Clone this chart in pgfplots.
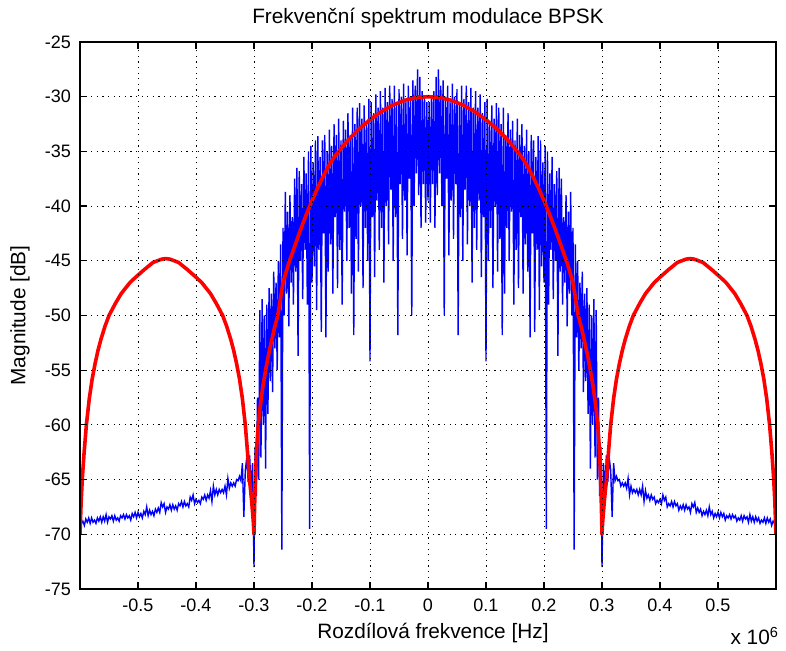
\documentclass[border=0pt]{standalone}
\usepackage{pgfplots}
\pgfplotsset{compat=1.18}
\usepackage{fontspec}
\setmainfont{Liberation Sans}
\begin{document}
\begin{tikzpicture}[font=\fontsize{9}{11}\selectfont]
\begin{axis}[
  scale only axis, width=348pt, height=273.5pt,
  at={(0pt,0pt)}, anchor=south west,
  xmin=-0.6, xmax=0.6, ymin=-75, ymax=-25,
  xtick={-0.5,-0.4,-0.3,-0.2,-0.1,0,0.1,0.2,0.3,0.4,0.5},
  xticklabels={-0.5,-0.4,-0.3,-0.2,-0.1,0,0.1,0.2,0.3,0.4,0.5},
  ytick={-75,-70,-65,-60,-55,-50,-45,-40,-35,-30,-25},
  yticklabels={-75,-70,-65,-60,-55,-50,-45,-40,-35,-30,-25},
  /pgf/number format/assume math mode=true,
  grid=major,
  major grid style={black, line width=0.45pt, dash pattern=on 0.6pt off 2.2pt},
  tick align=inside, major tick length=3.5pt,
  every tick/.style={black, line width=0.6pt},
  axis line style={black, line width=0.6pt},
  axis on top,
  xticklabel style={yshift=-1.5pt},
  yticklabel style={xshift=-1pt},
  clip=true,
]
% measured spectrum
\addplot[blue, line width=0.7pt] coordinates {
(-0.6000,-68.6) (-0.5975,-69.0) (-0.5950,-68.8) (-0.5925,-69.2) (-0.5900,-68.6) (-0.5875,-68.9) (-0.5850,-68.5) (-0.5825,-69.0) (-0.5800,-68.5) (-0.5775,-68.9)
(-0.5750,-68.7) (-0.5725,-69.0) (-0.5700,-68.5) (-0.5675,-68.8) (-0.5650,-68.4) (-0.5625,-68.9) (-0.5600,-68.4) (-0.5575,-68.8) (-0.5550,-68.2) (-0.5525,-68.9)
(-0.5500,-68.4) (-0.5475,-68.6) (-0.5450,-68.3) (-0.5425,-68.8) (-0.5400,-68.3) (-0.5375,-68.7) (-0.5350,-68.5) (-0.5325,-68.8) (-0.5300,-68.3) (-0.5275,-68.5)
(-0.5250,-68.2) (-0.5225,-68.6) (-0.5200,-68.2) (-0.5175,-68.5) (-0.5150,-68.3) (-0.5125,-68.7) (-0.5100,-68.1) (-0.5075,-68.4) (-0.5050,-68.0) (-0.5025,-68.5)
(-0.5000,-68.0) (-0.4975,-68.4) (-0.4950,-68.1) (-0.4925,-68.5) (-0.4900,-67.9) (-0.4875,-68.2) (-0.4850,-67.5) (-0.4825,-68.3) (-0.4800,-67.8) (-0.4775,-68.2)
(-0.4750,-67.9) (-0.4725,-68.3) (-0.4700,-67.7) (-0.4675,-68.0) (-0.4650,-67.6) (-0.4625,-68.0) (-0.4600,-67.1) (-0.4575,-67.5) (-0.4550,-67.2) (-0.4525,-68.0)
(-0.4500,-67.5) (-0.4475,-67.7) (-0.4450,-67.3) (-0.4425,-67.8) (-0.4400,-67.3) (-0.4375,-67.7) (-0.4350,-67.4) (-0.4325,-67.8) (-0.4300,-67.2) (-0.4275,-67.4)
(-0.4250,-67.0) (-0.4225,-67.5) (-0.4200,-67.0) (-0.4175,-67.4) (-0.4150,-67.2) (-0.4125,-67.5) (-0.4100,-66.6) (-0.4075,-66.9) (-0.4050,-66.4) (-0.4025,-67.2)
(-0.4000,-66.8) (-0.3975,-67.1) (-0.3950,-66.9) (-0.3925,-67.2) (-0.3900,-66.6) (-0.3875,-66.8) (-0.3850,-66.4) (-0.3825,-66.9) (-0.3800,-66.4) (-0.3775,-66.7)
(-0.3750,-66.0) (-0.3725,-67.0) (-0.3700,-65.6) (-0.3675,-66.4) (-0.3650,-65.9) (-0.3625,-66.4) (-0.3600,-65.9) (-0.3575,-66.2) (-0.3550,-65.9) (-0.3525,-66.2)
(-0.3500,-65.6) (-0.3475,-66.4) (-0.3450,-64.9) (-0.3425,-65.8) (-0.3400,-65.3) (-0.3375,-65.6) (-0.3350,-65.3) (-0.3325,-65.6) (-0.3300,-65.0) (-0.3275,-65.1)
(-0.3250,-64.7) (-0.3225,-65.1) (-0.3200,-63.5) (-0.3175,-68.4) (-0.3150,-64.2) (-0.3125,-63.0) (-0.3100,-65.2) (-0.3075,-62.8) (-0.3050,-66.0) (-0.3025,-63.5)
(-0.300,-73.0) (-0.298,-62.0) (-0.296,-66.5) (-0.294,-57.5) (-0.292,-65.0) (-0.290,-49.5) (-0.288,-63.0) (-0.286,-48.5) (-0.284,-60.0) (-0.282,-50.0)
(-0.280,-64.0) (-0.278,-49.0) (-0.276,-59.0) (-0.274,-47.5) (-0.272,-56.0) (-0.270,-48.0) (-0.268,-57.0) (-0.266,-46.0) (-0.264,-53.0) (-0.262,-47.0)
(-0.260,-55.0) (-0.258,-45.0) (-0.256,-52.0) (-0.254,-43.5) (-0.252,-71.4) (-0.250,-42.0) (-0.248,-50.0) (-0.246,-38.7) (-0.244,-48.0) (-0.242,-40.5)
(-0.240,-51.0) (-0.238,-39.0) (-0.236,-47.0) (-0.234,-41.0) (-0.232,-49.0) (-0.230,-37.5) (-0.228,-46.0) (-0.226,-36.5) (-0.224,-53.7) (-0.222,-36.8)
(-0.220,-45.0) (-0.218,-38.0) (-0.216,-48.5) (-0.214,-35.5) (-0.212,-44.0) (-0.210,-37.0) (-0.208,-49.0) (-0.206,-35.0) (-0.204,-69.5) (-0.202,-34.5)
(-0.200,-47.0) (-0.198,-36.0) (-0.196,-45.5) (-0.194,-34.0) (-0.192,-49.5) (-0.190,-33.6) (-0.188,-44.0) (-0.186,-35.5) (-0.184,-51.5) (-0.182,-34.0)
(-0.180,-42.5) (-0.178,-33.5) (-0.176,-52.0) (-0.174,-35.0) (-0.172,-46.0) (-0.170,-33.0) (-0.168,-43.5) (-0.166,-34.5) (-0.164,-48.0) (-0.162,-32.5)
(-0.160,-41.0) (-0.158,-33.5) (-0.156,-47.5) (-0.154,-32.0) (-0.152,-44.0) (-0.150,-34.0) (-0.148,-49.0) (-0.146,-32.2) (-0.144,-40.5) (-0.142,-33.0)
(-0.140,-45.0) (-0.138,-31.5) (-0.136,-42.0) (-0.134,-33.5) (-0.132,-48.0) (-0.130,-31.0) (-0.128,-51.8) (-0.126,-32.5) (-0.124,-43.0) (-0.122,-31.0)
(-0.120,-46.0) (-0.118,-30.6) (-0.116,-40.0) (-0.114,-32.0) (-0.112,-47.5) (-0.110,-30.8) (-0.108,-42.0) (-0.106,-32.5) (-0.104,-45.0) (-0.102,-30.2)
(-0.100,-54.2) (-0.098,-30.5) (-0.096,-41.0) (-0.094,-31.5) (-0.092,-46.5) (-0.090,-29.8) (-0.088,-39.5) (-0.086,-31.0) (-0.084,-44.0) (-0.082,-29.5)
(-0.080,-42.0) (-0.078,-31.0) (-0.076,-47.0) (-0.074,-29.2) (-0.072,-40.0) (-0.070,-30.5) (-0.068,-43.5) (-0.066,-29.0) (-0.064,-38.5) (-0.062,-30.2)
(-0.060,-45.0) (-0.058,-29.0) (-0.056,-41.0) (-0.054,-30.5) (-0.052,-51.8) (-0.050,-29.3) (-0.048,-38.0) (-0.046,-30.0) (-0.044,-43.0) (-0.042,-28.8)
(-0.040,-39.5) (-0.038,-30.5) (-0.036,-44.5) (-0.034,-29.0) (-0.032,-37.5) (-0.030,-30.0) (-0.028,-50.0) (-0.026,-28.5) (-0.024,-40.0) (-0.022,-29.0)
(-0.020,-37.0) (-0.018,-27.5) (-0.016,-39.0) (-0.014,-28.2) (-0.012,-42.0) (-0.010,-29.5) (-0.008,-38.0) (-0.006,-30.0) (-0.004,-41.5) (-0.002,-30.5)
(0.000,-39.5)
(0.002,-30.5) (0.004,-41.5) (0.006,-30.0) (0.008,-38.0) (0.010,-29.5) (0.012,-42.0) (0.014,-28.2) (0.016,-39.0) (0.018,-27.5) (0.020,-37.0)
(0.022,-29.0) (0.024,-40.0) (0.026,-28.5) (0.028,-50.0) (0.030,-30.0) (0.032,-37.5) (0.034,-29.0) (0.036,-44.5) (0.038,-30.5) (0.040,-39.5)
(0.042,-28.8) (0.044,-43.0) (0.046,-30.0) (0.048,-38.0) (0.050,-29.3) (0.052,-51.8) (0.054,-30.5) (0.056,-41.0) (0.058,-29.0) (0.060,-45.0)
(0.062,-30.2) (0.064,-38.5) (0.066,-29.0) (0.068,-43.5) (0.070,-30.5) (0.072,-40.0) (0.074,-29.2) (0.076,-47.0) (0.078,-31.0) (0.080,-42.0)
(0.082,-29.5) (0.084,-44.0) (0.086,-31.0) (0.088,-39.5) (0.090,-29.8) (0.092,-46.5) (0.094,-31.5) (0.096,-41.0) (0.098,-30.5) (0.100,-54.2)
(0.102,-30.2) (0.104,-45.0) (0.106,-32.5) (0.108,-42.0) (0.110,-30.8) (0.112,-47.5) (0.114,-32.0) (0.116,-40.0) (0.118,-30.6) (0.120,-46.0)
(0.122,-31.0) (0.124,-43.0) (0.126,-32.5) (0.128,-51.8) (0.130,-31.0) (0.132,-48.0) (0.134,-33.5) (0.136,-42.0) (0.138,-31.5) (0.140,-45.0)
(0.142,-33.0) (0.144,-40.5) (0.146,-32.2) (0.148,-49.0) (0.150,-34.0) (0.152,-44.0) (0.154,-32.0) (0.156,-47.5) (0.158,-33.5) (0.160,-41.0)
(0.162,-32.5) (0.164,-48.0) (0.166,-34.5) (0.168,-43.5) (0.170,-33.0) (0.172,-46.0) (0.174,-35.0) (0.176,-52.0) (0.178,-33.5) (0.180,-42.5)
(0.182,-34.0) (0.184,-51.5) (0.186,-35.5) (0.188,-44.0) (0.190,-33.6) (0.192,-49.5) (0.194,-34.0) (0.196,-45.5) (0.198,-36.0) (0.200,-47.0)
(0.202,-34.5) (0.204,-69.5) (0.206,-35.0) (0.208,-49.0) (0.210,-37.0) (0.212,-44.0) (0.214,-35.5) (0.216,-48.5) (0.218,-38.0) (0.220,-45.0)
(0.222,-36.8) (0.224,-53.7) (0.226,-36.5) (0.228,-46.0) (0.230,-37.5) (0.232,-49.0) (0.234,-41.0) (0.236,-47.0) (0.238,-39.0) (0.240,-51.0)
(0.242,-40.5) (0.244,-48.0) (0.246,-38.7) (0.248,-50.0) (0.250,-42.0) (0.252,-71.4) (0.254,-43.5) (0.256,-52.0) (0.258,-45.0) (0.260,-55.0)
(0.262,-47.0) (0.264,-53.0) (0.266,-46.0) (0.268,-57.0) (0.270,-48.0) (0.272,-56.0) (0.274,-47.5) (0.276,-59.0) (0.278,-49.0) (0.280,-64.0)
(0.282,-50.0) (0.284,-60.0) (0.286,-48.5) (0.288,-63.0) (0.290,-49.5) (0.292,-65.0) (0.294,-57.5) (0.296,-66.5) (0.298,-62.0) (0.300,-73.0)
(0.3025,-63.5) (0.3050,-66.0) (0.3075,-62.8) (0.3100,-65.2) (0.3125,-63.0) (0.3150,-64.2) (0.3175,-68.4) (0.3200,-63.5) (0.3225,-65.1) (0.3250,-64.7)
(0.3275,-65.1) (0.3300,-65.0) (0.3325,-65.6) (0.3350,-65.3) (0.3375,-65.6) (0.3400,-65.3) (0.3425,-65.8) (0.3450,-64.9) (0.3475,-66.4) (0.3500,-65.6)
(0.3525,-66.2) (0.3550,-65.9) (0.3575,-66.2) (0.3600,-65.9) (0.3625,-66.4) (0.3650,-65.9) (0.3675,-66.4) (0.3700,-65.6) (0.3725,-67.0) (0.3750,-66.0)
(0.3775,-66.7) (0.3800,-66.4) (0.3825,-66.9) (0.3850,-66.4) (0.3875,-66.8) (0.3900,-66.6) (0.3925,-67.2) (0.3950,-66.9) (0.3975,-67.1) (0.4000,-66.8)
(0.4025,-67.2) (0.4050,-66.4) (0.4075,-66.9) (0.4100,-66.6) (0.4125,-67.5) (0.4150,-67.2) (0.4175,-67.4) (0.4200,-67.0) (0.4225,-67.5) (0.4250,-67.0)
(0.4275,-67.4) (0.4300,-67.2) (0.4325,-67.8) (0.4350,-67.4) (0.4375,-67.7) (0.4400,-67.3) (0.4425,-67.8) (0.4450,-67.3) (0.4475,-67.7) (0.4500,-67.5)
(0.4525,-68.0) (0.4550,-67.2) (0.4575,-67.5) (0.4600,-67.1) (0.4625,-68.0) (0.4650,-67.6) (0.4675,-68.0) (0.4700,-67.7) (0.4725,-68.3) (0.4750,-67.9)
(0.4775,-68.2) (0.4800,-67.8) (0.4825,-68.3) (0.4850,-67.5) (0.4875,-68.2) (0.4900,-67.9) (0.4925,-68.5) (0.4950,-68.1) (0.4975,-68.4) (0.5000,-68.0)
(0.5025,-68.5) (0.5050,-68.0) (0.5075,-68.4) (0.5100,-68.1) (0.5125,-68.7) (0.5150,-68.3) (0.5175,-68.5) (0.5200,-68.2) (0.5225,-68.6) (0.5250,-68.2)
(0.5275,-68.5) (0.5300,-68.3) (0.5325,-68.8) (0.5350,-68.5) (0.5375,-68.7) (0.5400,-68.3) (0.5425,-68.8) (0.5450,-68.3) (0.5475,-68.6) (0.5500,-68.4)
(0.5525,-68.9) (0.5550,-68.2) (0.5575,-68.8) (0.5600,-68.4) (0.5625,-68.9) (0.5650,-68.4) (0.5675,-68.8) (0.5700,-68.5) (0.5725,-69.0) (0.5750,-68.7)
(0.5775,-68.9) (0.5800,-68.5) (0.5825,-69.0) (0.5850,-68.5) (0.5875,-68.9) (0.5900,-68.6) (0.5925,-69.2) (0.5950,-68.8) (0.5975,-69.0) (0.6000,-68.6)
};
% theoretical envelope
\addplot[red, line width=1.8pt, line join=round] coordinates {
(-0.600,-70) (-0.599,-68.5) (-0.598,-67) (-0.596,-64.9) (-0.593,-62.6) (-0.589,-60) (-0.584,-57.6) (-0.579,-55.8) (-0.574,-54.4)
(-0.569,-53.2) (-0.564,-52.2) (-0.557,-51.0) (-0.550,-50.0) (-0.539,-48.9) (-0.529,-48.0) (-0.514,-47.0) (-0.504,-46.5) (-0.489,-45.8)
(-0.474,-45.15) (-0.459,-44.85) (-0.452,-44.8) (-0.445,-44.85) (-0.430,-45.15) (-0.415,-45.8) (-0.400,-46.5) (-0.390,-47.0) (-0.375,-48.0)
(-0.365,-48.9) (-0.354,-50.0) (-0.347,-51.0) (-0.340,-52.2) (-0.335,-53.2) (-0.330,-54.4) (-0.325,-55.8) (-0.320,-57.6) (-0.315,-60)
(-0.311,-62.6) (-0.308,-64.9) (-0.306,-65.9) (-0.304,-67) (-0.302,-68.3) (-0.301,-69) (-0.300,-70)
(-0.299,-67.5) (-0.298,-65.6) (-0.297,-64.0) (-0.295,-61.8) (-0.293,-60.2) (-0.290,-58.6) (-0.285,-56.6) (-0.280,-55.0) (-0.275,-53.6)
(-0.270,-52.4) (-0.265,-51.2) (-0.259,-50.0) (-0.250,-47.0) (-0.240,-45.2) (-0.230,-43.7) (-0.220,-42.2) (-0.210,-40.8) (-0.200,-39.5)
(-0.190,-38.3) (-0.180,-37.2) (-0.170,-36.2) (-0.160,-35.4) (-0.140,-34.1) (-0.120,-33.0) (-0.100,-32.1) (-0.080,-31.35) (-0.060,-30.75)
(-0.040,-30.33) (-0.020,-30.08) (0.000,-30.0)
(0.020,-30.08) (0.040,-30.33) (0.060,-30.75) (0.080,-31.35) (0.100,-32.1) (0.120,-33.0) (0.140,-34.1) (0.160,-35.4) (0.170,-36.2)
(0.180,-37.2) (0.190,-38.3) (0.200,-39.5) (0.210,-40.8) (0.220,-42.2) (0.230,-43.7) (0.240,-45.2) (0.250,-47.0) (0.259,-50.0)
(0.265,-51.2) (0.270,-52.4) (0.275,-53.6) (0.280,-55.0) (0.285,-56.6) (0.290,-58.6) (0.293,-60.2) (0.295,-61.8) (0.297,-64.0)
(0.298,-65.6) (0.299,-67.5) (0.300,-70)
(0.301,-69) (0.302,-68.3) (0.304,-67) (0.306,-65.9) (0.308,-64.9) (0.311,-62.6) (0.315,-60) (0.320,-57.6) (0.325,-55.8) (0.330,-54.4)
(0.335,-53.2) (0.340,-52.2) (0.347,-51.0) (0.354,-50.0) (0.365,-48.9) (0.375,-48.0) (0.390,-47.0) (0.400,-46.5) (0.415,-45.8)
(0.430,-45.15) (0.445,-44.85) (0.452,-44.8) (0.459,-44.85) (0.474,-45.15) (0.489,-45.8) (0.504,-46.5) (0.514,-47.0) (0.529,-48.0)
(0.539,-48.9) (0.550,-50.0) (0.557,-51.0) (0.564,-52.2) (0.569,-53.2) (0.574,-54.4) (0.579,-55.8) (0.584,-57.6) (0.589,-60)
(0.593,-62.6) (0.596,-64.9) (0.598,-67) (0.599,-68.5) (0.600,-70)
};
\end{axis}
\node[font=\fontsize{10.4}{12}\selectfont] at (174pt,285.5pt) {Frekvenční spektrum modulace BPSK};
\node[rotate=90, font=\fontsize{10.4}{12}\selectfont] at (-30pt,136.75pt) {Magnitude [dB]};
\node[font=\fontsize{10.4}{12}\selectfont] at (176.5pt,-22pt) {Rozdílová frekvence [Hz]};
\node[anchor=east, font=\fontsize{10.4}{12}\selectfont] at (353pt,-23.5pt) {x 10\textsuperscript{6}};
\pgfresetboundingbox
\useasboundingbox (-40pt,-31pt) rectangle (353pt,294.5pt);
\end{tikzpicture}
\end{document}
